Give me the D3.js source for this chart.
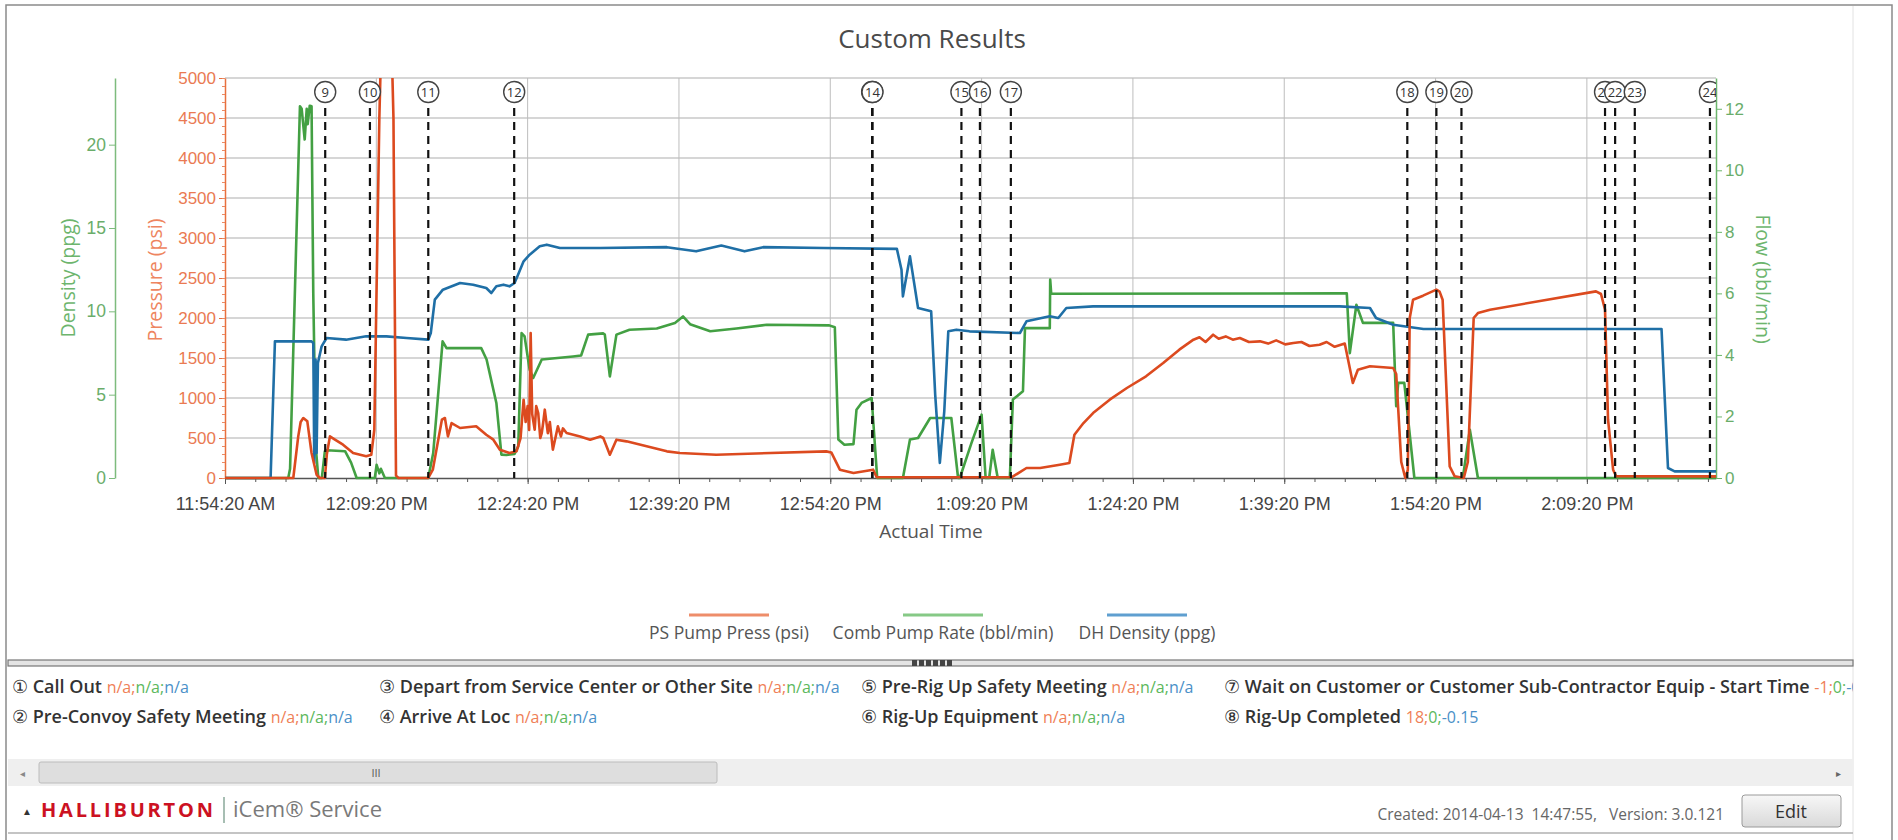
<!DOCTYPE html>
<html>
<head>
<meta charset="utf-8">
<script src="https://cdn.jsdelivr.net/npm/d3@7"></script>
<style>
  body { margin: 0; background: #fff; }
  svg { display: block; font-family: "Open Sans", "Noto Sans", sans-serif; }
</style>
</head>
<body>
<svg id="chart" width="1898" height="840"></svg>
<script>
// ---- data ----
var startTime = "11:54:20";
var endTime = "14:22:08";
var xTickTimes = ["11:54:20", "12:09:20", "12:24:20", "12:39:20", "12:54:20", "13:09:20", "13:24:20", "13:39:20", "13:54:20", "14:09:20"];
var pressTicks = [0, 500, 1000, 1500, 2000, 2500, 3000, 3500, 4000, 4500, 5000];
var densTicks = [0, 5, 10, 15, 20];
var flowTicks = [0, 2, 4, 6, 8, 10, 12];

// [minutes after 11:54:20, value]
var pumpPress = [[0,0],[6.77,0],[7.26,520],[7.5,700],[7.76,750],[8.16,708],[8.58,312],[9.08,41],[9.4,0],[9.9,0],[10.1,300],[10.4,520],[10.9,479],[11.7,416],[12.7,312],[14.0,271],[14.5,291],[14.8,600],[15.3,4500],[15.6,6000],[16.4,6000],[16.7,4500],[16.95,30],[17.2,0],[20.15,0],[20.6,104],[21.5,729],[21.8,750],[22.1,520],[22.46,687],[23.3,625],[24.9,646],[25.9,541],[26.6,479],[27.25,354],[28.2,312],[28.9,333],[29.3,500],[29.6,979],[29.8,700],[30.0,900],[30.15,600],[30.3,1812],[30.45,800],[30.7,604],[30.85,900],[31.05,812],[31.25,500],[31.4,562],[31.55,700],[31.7,854],[32.0,560],[32.2,700],[32.5,354],[33.0,646],[33.3,520],[33.5,620],[33.86,562],[35.2,520],[36.2,479],[37.2,520],[37.5,500],[38.15,291],[38.8,479],[39.8,458],[43.8,333],[45.1,312],[48.7,291],[59.6,333],[60.1,320],[60.95,104],[62.3,62],[64.25,104],[64.6,10],[78.0,10],[79.45,125],[80.8,125],[82.75,166],[83.7,187],[84.2,541],[85.1,687],[86.05,812],[87.7,979],[89.4,1125],[91.3,1271],[93.0,1437],[94.6,1604],[96.0,1729],[96.6,1760],[97.2,1700],[97.95,1791],[98.5,1740],[99.2,1770],[99.9,1729],[100.6,1750],[101.5,1700],[102.6,1708],[103.4,1680],[104.2,1720],[105.1,1670],[105.9,1687],[106.7,1700],[107.5,1650],[108.5,1666],[109.2,1700],[110.0,1640],[111.0,1680],[111.8,1187],[112.3,1354],[113.5,1396],[115.8,1375],[116.1,1300],[116.6,200],[117.0,0],[117.25,100],[117.44,2000],[117.77,2229],[118.76,2279],[120.08,2354],[120.4,2330],[120.7,2229],[121.4,146],[121.9,21],[122.8,0],[123.2,200],[123.78,2000],[124.2,2062],[125.4,2104],[135.9,2333],[136.4,2300],[136.8,2104],[137.1,729],[137.6,104],[137.9,21],[147.8,20]];

var pumpRate = [[0,0],[6.27,0],[6.45,0.3],[7.43,12.08],[7.6,12.0],[7.9,11.0],[8.1,12.0],[8.2,11.5],[8.4,12.1],[8.58,12.08],[8.75,6.0],[9.0,1.0],[9.25,0],[9.6,0],[9.9,0.87],[10.1,0.9],[11.9,0.87],[12.5,0.5],[13.05,0],[14.85,0],[15.03,0.43],[15.3,0.15],[15.45,0.3],[15.85,0],[20.15,0],[20.64,0.81],[21.57,4.44],[21.96,4.22],[25.4,4.22],[25.93,3.85],[26.9,2.44],[27.4,0.76],[27.9,0.75],[28.7,0.78],[29.07,1.03],[29.4,4.71],[29.7,4.6],[30.2,3.52],[30.55,3.25],[31.4,3.85],[34.5,3.95],[35.3,3.98],[36.0,4.66],[37.5,4.7],[37.65,4.66],[38.15,3.3],[38.8,4.66],[40.1,4.82],[42.8,4.86],[44.6,5.04],[45.4,5.25],[46.1,5.0],[48.1,4.77],[50.7,4.86],[53.7,4.98],[59.9,4.96],[60.45,4.9],[60.8,1.25],[61.4,1.08],[62.3,1.1],[62.6,2.22],[63.1,2.44],[64.1,2.6],[64.65,0],[67.2,0],[67.9,1.25],[68.7,1.3],[69.9,1.95],[72.0,1.95],[72.67,0],[72.84,0],[74.0,1.14],[75.0,2.06],[75.4,0],[75.75,0],[76.1,0.92],[76.6,0],[77.8,0],[78.1,2.55],[79.1,2.82],[79.3,4.87],[81.76,4.87],[81.8,6.45],[81.9,5.99],[110.5,6.0],[111.2,6.0],[111.5,4.06],[112.15,5.63],[112.8,5.04],[115.8,5.04],[116.1,2.33],[116.3,3.09],[116.9,3.09],[117.9,0],[122.7,0],[123.4,1.57],[124.2,0],[147.8,0]];

var dhDensity = [[0,0],[4.52,0],[4.95,8.2],[8.58,8.2],[8.75,8.1],[8.85,0.9],[8.98,7.1],[9.08,1.5],[9.21,6.9],[9.58,7.9],[10.07,8.4],[12.0,8.3],[14.0,8.5],[16.0,8.5],[18.0,8.4],[20.15,8.3],[20.4,8.7],[20.8,10.7],[21.6,11.3],[23.3,11.7],[24.6,11.6],[25.9,11.4],[26.4,11.1],[26.9,11.5],[27.6,11.6],[28.2,11.5],[28.7,11.7],[29.05,12.2],[29.6,13.0],[30.2,13.4],[31.2,13.9],[31.9,14.0],[33.2,13.8],[37.2,13.8],[43.8,13.85],[46.7,13.6],[49.2,13.95],[51.5,13.6],[53.35,13.85],[59.3,13.8],[66.6,13.75],[67.06,12.5],[67.2,10.9],[67.9,13.3],[68.7,10.2],[70.0,10.0],[70.4,5.0],[70.86,0.9],[71.3,4.0],[71.7,8.8],[72.5,8.9],[73.8,8.8],[78.8,8.7],[79.45,9.4],[81.76,9.7],[82.6,9.6],[83.4,10.2],[86.05,10.3],[110.5,10.3],[113.5,10.2],[114.1,9.6],[115.8,9.2],[118.8,8.94],[142.4,8.94],[143.04,0.6],[143.7,0.4],[147.8,0.4]];

var eventIds = [9, 10, 11, 12, 13, 14, 15, 16, 17, 18, 19, 20, 21, 22, 23, 24];
var eventTimes = ["12:04:16","12:08:42","12:14:29","12:23:00","12:58:29","12:58:31","13:07:20","13:09:10","13:12:14","13:51:32","13:54:25","13:56:54","14:11:08","14:12:08","14:14:05","14:21:32"];

var seriesNames = ["PS Pump Press (psi)", "Comb Pump Rate (bbl/min)", "DH Density (ppg)"];

var stageNums = ["\u2460", "\u2461", "\u2462", "\u2463", "\u2464", "\u2465", "\u2466", "\u2467"];
var stageNames = ["Call Out", "Pre-Convoy Safety Meeting", "Depart from Service Center or Other Site", "Arrive At Loc",
  "Pre-Rig Up Safety Meeting", "Rig-Up Equipment", "Wait on Customer or Customer Sub-Contractor Equip - Start Time", "Rig-Up Completed"];
var stagePress = ["n/a", "n/a", "n/a", "n/a", "n/a", "n/a", "-1", "18"];
var stageRate = ["n/a", "n/a", "n/a", "n/a", "n/a", "n/a", "0", "0"];
var stageDens = ["n/a", "n/a", "n/a", "n/a", "n/a", "n/a", "-0.1", "-0.15"];

// ---- layout ----
var plot = {left: 225, right: 1716, top: 78, bottom: 478};
var red = "#dc4a1f", green = "#43a043", blue = "#1f6fa6";

var svg = d3.select("#chart");
var parseT = d3.timeParse("%H:%M:%S");
var fmtT = d3.timeFormat("%-I:%M:%S %p");
var t0 = parseT(startTime);
function atMin(m) { return new Date(t0.getTime() + m * 60000); }

var x = d3.scaleTime().domain([t0, parseT(endTime)]).range([plot.left, plot.right]);
var yP = d3.scaleLinear().domain([0, 5000]).range([plot.bottom, plot.top]);
var yD = d3.scaleLinear().domain([0, 24]).range([plot.bottom, plot.top]);
var yF = d3.scaleLinear().domain([0, 13]).range([plot.bottom, plot.top]);

// outer frame
svg.append("rect").attr("x", 6).attr("y", 5).attr("width", 1886).attr("height", 845)
  .attr("fill", "none").attr("stroke", "#8a8a8a").attr("stroke-width", 1.5);
svg.append("line").attr("x1", 1853).attr("x2", 1853).attr("y1", 6).attr("y2", 840)
  .attr("stroke", "#e2e2e2");

// title
svg.append("text").attr("x", 932).attr("y", 48).attr("text-anchor", "middle")
  .style("font-size", "26px").attr("fill", "#4a4a4a").text("Custom Results");

svg.append("clipPath").attr("id", "plotClip").append("rect")
  .attr("x", plot.left).attr("y", plot.top - 12).attr("width", plot.right - plot.left).attr("height", plot.bottom - plot.top + 14);
svg.append("clipPath").attr("id", "lineClip").append("rect")
  .attr("x", plot.left).attr("y", plot.top).attr("width", plot.right - plot.left).attr("height", plot.bottom - plot.top + 2);

// grid
svg.append("g").selectAll("line").data(pressTicks.slice(1)).enter().append("line")
  .attr("x1", plot.left).attr("x2", plot.right)
  .attr("y1", d => yP(d)).attr("y2", d => yP(d))
  .attr("stroke", "#d6d6d6").attr("stroke-width", 2);
svg.append("g").selectAll("line").data(xTickTimes.slice(1)).enter().append("line")
  .attr("x1", d => x(parseT(d))).attr("x2", d => x(parseT(d)))
  .attr("y1", plot.top).attr("y2", plot.bottom)
  .attr("stroke", "#bdbdbd").attr("stroke-width", 1);

// x axis
var xAxis = svg.append("g").attr("transform", "translate(0," + plot.bottom + ")")
  .call(d3.axisBottom(x).tickValues(xTickTimes.map(parseT)).tickFormat(fmtT).tickSize(6).tickSizeOuter(0));
svg.append("g").attr("transform", "translate(0," + plot.bottom + ")")
  .call(d3.axisBottom(x).tickValues(d3.range(0, 148, 3).map(atMin)).tickFormat("").tickSize(4).tickSizeOuter(0))
  .call(g => g.select(".domain").remove());
xAxis.selectAll("text").style("font-size", "18px").attr("fill", "#444").attr("y", 19);
svg.selectAll(".tick line").attr("stroke", "#555");
xAxis.select(".domain").attr("stroke", "#555").attr("stroke-width", 1.5);

svg.append("text").attr("x", 931).attr("y", 538).attr("text-anchor", "middle")
  .style("font-size", "19px").attr("fill", "#555").text("Actual Time");

// pressure axis
var pAxis = svg.append("g").attr("transform", "translate(" + plot.left + ",0)")
  .call(d3.axisLeft(yP).tickValues(pressTicks).tickFormat(d3.format("d")).tickSize(6).tickSizeOuter(0));
var pMinor = svg.append("g").attr("transform", "translate(" + plot.left + ",0)")
  .call(d3.axisLeft(yP).tickValues(d3.range(0, 5001, 100)).tickFormat("").tickSize(3).tickSizeOuter(0));
pMinor.select(".domain").remove();
pAxis.select(".domain").attr("stroke", "#e8703f").attr("stroke-width", 1.5);
pAxis.selectAll(".tick line").attr("stroke", "#e8703f");
pMinor.selectAll(".tick line").attr("stroke", "#ec8a62");
pAxis.selectAll("text").style("font-size", "17px").attr("fill", "#ea7a52");
svg.append("text").attr("transform", "translate(162,280) rotate(-90)").attr("text-anchor", "middle")
  .style("font-size", "19.5px").attr("fill", "#ee8560").text("Pressure (psi)");

// density axis
var dAxis = svg.append("g").attr("transform", "translate(115,0)")
  .call(d3.axisLeft(yD).tickValues(densTicks).tickSize(6).tickSizeOuter(0));
dAxis.select(".domain").attr("stroke", "#7dbb7d").attr("stroke-width", 1.5);
dAxis.selectAll(".tick line").attr("stroke", "#7dbb7d");
dAxis.selectAll("text").style("font-size", "17.5px").attr("fill", "#6aad6a");
svg.append("text").attr("transform", "translate(75,278) rotate(-90)").attr("text-anchor", "middle")
  .style("font-size", "19.5px").attr("fill", "#6db56d").text("Density (ppg)");

// flow axis
var fAxis = svg.append("g").attr("transform", "translate(" + plot.right + ",0)")
  .call(d3.axisRight(yF).tickValues(flowTicks).tickSize(6).tickSizeOuter(0));
fAxis.select(".domain").attr("stroke", "#6cb56c").attr("stroke-width", 1.5);
fAxis.selectAll(".tick line").attr("stroke", "#6cb56c");
fAxis.selectAll("text").style("font-size", "17px").attr("fill", "#6aad6a");
svg.append("text").attr("transform", "translate(1756,279) rotate(90)").attr("text-anchor", "middle")
  .style("font-size", "19.5px").attr("fill", "#6db56d").text("Flow (bbl/min)");

// series lines
var lines = svg.append("g").attr("clip-path", "url(#lineClip)");
function drawSeries(data, yScale, color) {
  lines.append("path").datum(data)
    .attr("fill", "none").attr("stroke", color).attr("stroke-width", 2.6)
    .attr("stroke-linejoin", "round")
    .attr("d", d3.line().x(d => x(atMin(d[0]))).y(d => yScale(d[1])));
}
drawSeries(pumpRate, yF, green);
drawSeries(dhDensity, yD, blue);
drawSeries(pumpPress, yP, red);

// event markers
var ev = svg.append("g").attr("clip-path", "url(#plotClip)")
  .selectAll("g").data(eventIds).enter().append("g")
  .attr("transform", (d, i) => "translate(" + x(parseT(eventTimes[i])) + ",0)");
ev.append("line").attr("y1", 108).attr("y2", plot.bottom)
  .attr("stroke", "#111").attr("stroke-width", 2.2).attr("stroke-dasharray", "8,6");
ev.append("circle").attr("cy", 92).attr("r", 10.5)
  .attr("fill", "#fff").attr("stroke", "#444").attr("stroke-width", 1.4);
ev.append("text").attr("y", 96.5).attr("text-anchor", "middle")
  .style("font-size", "13px").attr("fill", "#333").text(d => d);

// legend
var legendColors = ["#ee8d6a", "#86c986", "#5f9fd0"];
var legendX = [729, 943, 1147];
var lg = svg.append("g").selectAll("g").data(seriesNames).enter().append("g")
  .attr("transform", (d, i) => "translate(" + legendX[i] + ",0)");
lg.append("line").attr("x1", -40).attr("x2", 40).attr("y1", 615).attr("y2", 615)
  .attr("stroke", (d, i) => legendColors[i]).attr("stroke-width", 3);
lg.append("text").attr("y", 639).attr("text-anchor", "middle")
  .style("font-size", "17.5px").attr("fill", "#555").text(d => d);

// splitter bar
svg.append("rect").attr("x", 8).attr("y", 660).attr("width", 1845).attr("height", 6)
  .attr("fill", "#e4e4e4").attr("stroke", "#777").attr("stroke-width", 1.2);
svg.append("g").selectAll("rect").data(d3.range(6)).enter().append("rect")
  .attr("x", d => 912 + d * 7).attr("y", 660).attr("width", 5).attr("height", 6).attr("fill", "#444");

// stage list
svg.append("clipPath").attr("id", "panelClip").append("rect")
  .attr("x", 8).attr("y", 668).attr("width", 1845).attr("height", 80);
var colX = [12, 12, 379, 379, 861, 861, 1224, 1224];
var rowY = [693, 723];
var st = svg.append("g").attr("clip-path", "url(#panelClip)")
  .selectAll("text").data(stageNames).enter().append("text")
  .attr("x", (d, i) => colX[i]).attr("y", (d, i) => rowY[i % 2])
  .style("font-size", "18px").attr("fill", "#333");
st.append("tspan").text((d, i) => stageNums[i] + " ");
st.append("tspan").style("font-weight", 600).text(d => d + " ");
st.append("tspan").style("font-size", "16px").attr("fill", "#ef7f57").text((d, i) => stagePress[i] + ";");
st.append("tspan").style("font-size", "16px").attr("fill", "#5cb85c").text((d, i) => stageRate[i] + ";");
st.append("tspan").style("font-size", "16px").attr("fill", "#4a90c8").text((d, i) => stageDens[i]);

// horizontal scroll bar
svg.append("rect").attr("x", 8).attr("y", 759).attr("width", 1845).attr("height", 27).attr("fill", "#efefef");
svg.append("rect").attr("x", 39).attr("y", 762).attr("width", 678).attr("height", 21).attr("rx", 2)
  .attr("fill", "#dedede").attr("stroke", "#bcbcbc");
svg.append("text").attr("x", 376).attr("y", 777).attr("text-anchor", "middle")
  .style("font-size", "11px").attr("fill", "#555").text("III");
svg.append("text").attr("x", 22).attr("y", 777).attr("text-anchor", "middle")
  .style("font-size", "10px").attr("fill", "#888").text("\u25C2");
svg.append("text").attr("x", 1838).attr("y", 777).attr("text-anchor", "middle")
  .style("font-size", "10px").attr("fill", "#666").text("\u25B8");

// footer
svg.append("text").attr("x", 27).attr("y", 815).attr("text-anchor", "middle")
  .style("font-size", "10px").attr("fill", "#333").text("\u25B2");
svg.append("text").attr("x", 41).attr("y", 817).attr("textLength", 172)
  .style("font-size", "20px").style("font-weight", 700).attr("fill", "#cc1122").text("HALLIBURTON");
svg.append("line").attr("x1", 224).attr("x2", 224).attr("y1", 797).attr("y2", 823)
  .attr("stroke", "#8aa89a").attr("stroke-width", 1.5);
svg.append("text").attr("x", 233).attr("y", 817)
  .style("font-size", "22px").attr("fill", "#7a7a7a").text("iCem\u00AE Service");
svg.append("text").attr("x", 1724).attr("y", 820).attr("text-anchor", "end")
  .style("font-size", "15.5px").attr("fill", "#666")
  .text("Created: 2014-04-13  14:47:55,   Version: 3.0.121").attr("xml:space", "preserve");
var grad = svg.append("defs").append("linearGradient").attr("id", "btnGrad").attr("x1", 0).attr("x2", 0).attr("y1", 0).attr("y2", 1);
grad.append("stop").attr("offset", "0%").attr("stop-color", "#f7f7f7");
grad.append("stop").attr("offset", "100%").attr("stop-color", "#d9d9d9");
svg.append("rect").attr("x", 1742).attr("y", 795).attr("width", 99).attr("height", 32).attr("rx", 3)
  .attr("fill", "url(#btnGrad)").attr("stroke", "#9a9a9a");
svg.append("text").attr("x", 1791).attr("y", 818).attr("text-anchor", "middle")
  .style("font-size", "18px").attr("fill", "#333").text("Edit");
svg.append("line").attr("x1", 8).attr("x2", 1853).attr("y1", 833).attr("y2", 833)
  .attr("stroke", "#b0b0b0").attr("stroke-width", 1.5);
</script>
</body>
</html>
